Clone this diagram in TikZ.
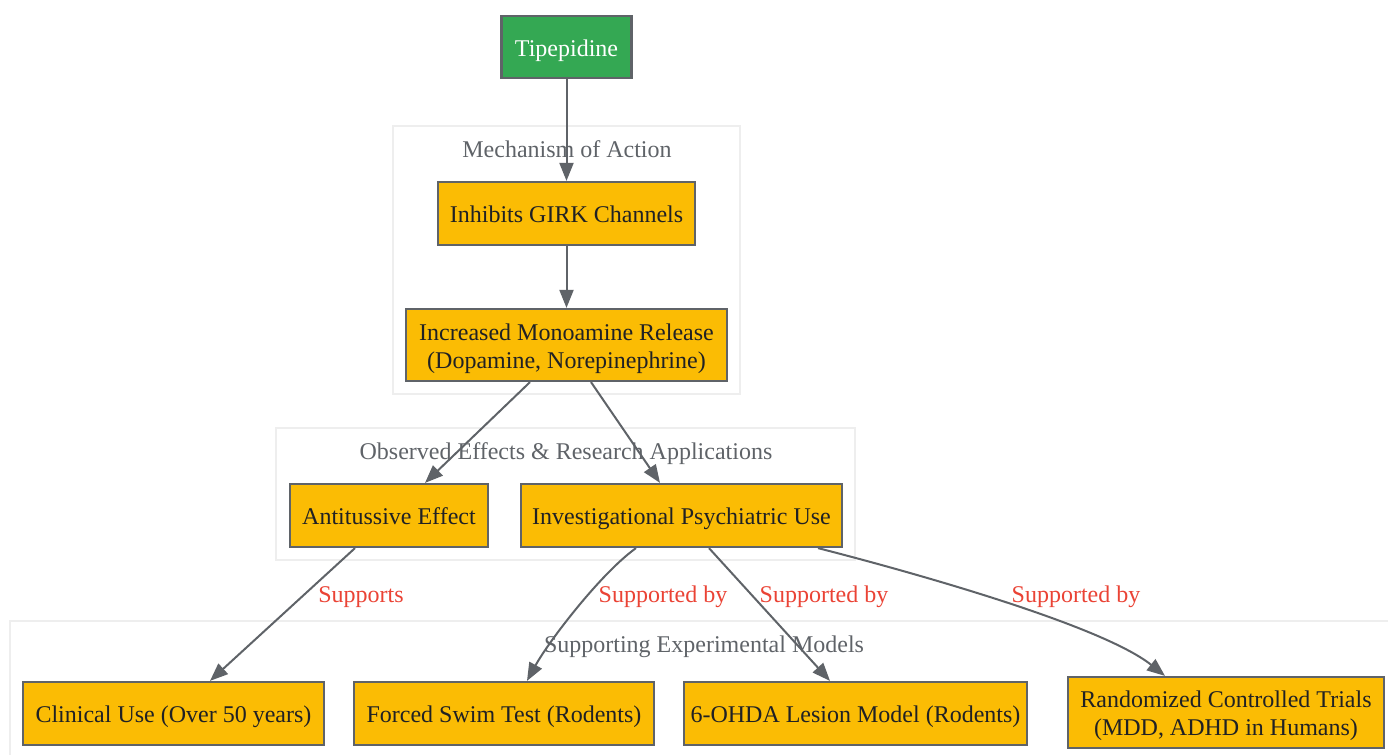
\documentclass[tikz,border=0pt]{standalone}
\usepackage{fontspec}
\setmainfont{Liberation Serif}
\usetikzlibrary{fit}
\usetikzlibrary{calc}
\usetikzlibrary{arrows.meta}

\definecolor{gyellow}{HTML}{FBBC04}
\definecolor{ggreen}{HTML}{34A853}
\definecolor{gborder}{HTML}{5F6368}
\definecolor{gtext}{HTML}{202124}
\definecolor{gred}{HTML}{EA4335}
\definecolor{gcluster}{HTML}{EEEEEE}

\begin{document}
\begin{tikzpicture}[
  x=0.5pt, y=-0.5pt,
  every node/.style={font=\fontsize{12}{14}\selectfont},
  txt/.style={text height=11.6pt, text depth=2.6pt},
  stage/.style={draw=gborder, line width=1.1pt, fill=gyellow, text=gtext, rectangle, align=center, inner sep=0pt, txt},
  twoline/.style={text height=26pt, text depth=2.6pt},
  drug/.style={stage, fill=ggreen, text=white},
  cluster/.style={draw=gcluster, line width=0.8pt, rectangle, inner sep=0pt, outer sep=0pt},
  clabel/.style={text=gborder, txt},
  elabel/.style={text=gred, txt},
  arr/.style={draw=gborder, line width=1pt, -{Triangle[length=9pt, width=7pt]}},
]

\useasboundingbox (0,0) rectangle (1388,755);
\clip (0,0) rectangle (1388,755);

% clusters
\node (mech) [cluster, fit={(393,126) (740,394)}] {};
\node (obs) [cluster, fit={(276,428) (855,560)}] {};
\node (sup) [cluster, fit={(10,621) (1400,770)}] {};

\node (mechlabel) [clabel] at (567,148) {Mechanism of Action};
\node (obslabel) [clabel] at (566,450) {Observed Effects \& Research Applications};
\node (suplabel) [clabel] at (704,643) {Supporting Experimental Models};

% stages
\node (tip) [drug, minimum width=65pt, minimum height=31pt] at (566.5,47) {Tipepidine};
\node (girk) [stage, minimum width=128.5pt, minimum height=31.5pt] at (566.5,213.5) {Inhibits GIRK Channels};
\node (mono) [stage, twoline, minimum width=160.5pt, minimum height=36pt] at (566.5,345) {Increased Monoamine Release\\(Dopamine, Norepinephrine)};
\node (anti) [stage, minimum width=99pt, minimum height=31.5pt] at (389,515.5) {Antitussive Effect};
\node (psych) [stage, minimum width=160.5pt, minimum height=31.5pt] at (681.5,515.5) {Investigational Psychiatric Use};
\node (clin) [stage, minimum width=150.5pt, minimum height=31.5pt] at (173.5,713.5) {Clinical Use (Over 50 years)};
\node (swim) [stage, minimum width=150pt, minimum height=31.5pt] at (504,713.5) {Forced Swim Test (Rodents)};
\node (ohda) [stage, minimum width=171.5pt, minimum height=31.5pt] at (855.5,713.5) {6-OHDA Lesion Model (Rodents)};
\node (rct) [stage, twoline, minimum width=158pt, minimum height=35.5pt] at (1226,712.5) {Randomized Controlled Trials\\(MDD, ADHD in Humans)};

% edge labels
\node (lsup) [elabel] at (361,593) {Supports};
\node (lswim) [elabel] at (663,593) {Supported by};
\node (lohda) [elabel] at (824,593) {Supported by};
\node (lrct) [elabel] at (1076,593) {Supported by};

% edges
\draw[arr] (tip) -- (girk);
\draw[arr] (girk) -- (mono);
\draw[arr] ([xshift=-18.25pt]mono.south) -- ([xshift=18pt]anti.north);
\draw[arr] ([xshift=12.25pt]mono.south) -- ([xshift=-10.75pt]psych.north);
\draw[arr] ([xshift=-17pt]anti.south) -- ([xshift=18.25pt]clin.north);
\draw[arr] ([xshift=-22.75pt]psych.south) .. controls +(-35,25) and +(22,-40) .. ([xshift=11.5pt]swim.north);
\draw[arr] ([xshift=13.75pt]psych.south) -- ([xshift=-12.75pt]ohda.north);
\draw[arr] ([xshift=68.25pt]psych.south) .. controls +(82,21) and +(-65,-52) .. ([xshift=-30.5pt]rct.north);

\end{tikzpicture}
\end{document}
